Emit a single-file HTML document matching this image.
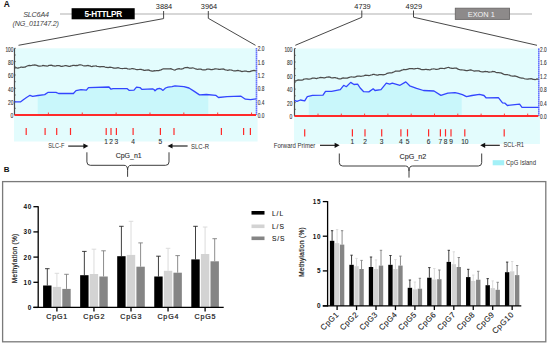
<!DOCTYPE html>
<html><head><meta charset="utf-8"><title>SLC6A4 methylation</title>
<style>
html,body{margin:0;padding:0;background:#fff;}
body{width:550px;height:346px;overflow:hidden;}
svg{display:block;font-family:"Liberation Sans", sans-serif;}
</style></head>
<body>
<svg width="550" height="346" viewBox="0 0 550 346">
<rect width="550" height="346" fill="#fff"/>
<text x="3.8" y="6.95" font-size="8.4" font-weight="bold" fill="#111">A</text>
<text x="36" y="17.3" font-size="7.2" font-style="italic" fill="#444" letter-spacing="-0.2" text-anchor="middle">SLC6A4</text>
<text x="35.7" y="26.0" font-size="7.2" font-style="italic" fill="#444" letter-spacing="-0.22" text-anchor="middle">(NG_011747.2)</text>
<line x1="60" y1="14" x2="532" y2="14" stroke="#b0b0b0" stroke-width="1.2"/>
<rect x="71.6" y="8.2" width="63.1" height="11.1" fill="#000"/>
<text x="103.2" y="16.5" font-size="8.2" font-weight="bold" fill="#fff" text-anchor="middle" letter-spacing="-0.3">5-HTTLPR</text>
<rect x="455.3" y="8.2" width="54.2" height="11.2" fill="#8d8a8a" stroke="#6a6868" stroke-width="0.9"/>
<text x="481.3" y="16.5" font-size="7.4" fill="#f4f4f4" text-anchor="middle">EXON 1</text>
<text x="164" y="9" font-size="7.4" fill="#222" text-anchor="middle">3884</text>
<text x="209" y="9" font-size="7.4" fill="#222" text-anchor="middle">3964</text>
<text x="362.5" y="9" font-size="7.4" fill="#222" text-anchor="middle">4739</text>
<text x="413.8" y="9" font-size="7.4" fill="#222" text-anchor="middle">4929</text>
<polyline points="163.6,11 163.6,18.6 18.5,45.3" fill="none" stroke="#333" stroke-width="0.9"/>
<polyline points="208.3,11 208.3,18.3 255.5,45.3" fill="none" stroke="#333" stroke-width="0.9"/>
<polyline points="361.8,10.5 361.8,17.3 295.3,45.3" fill="none" stroke="#333" stroke-width="0.9"/>
<polyline points="413.5,10.5 413.5,17.2 537,45.3" fill="none" stroke="#333" stroke-width="0.9"/>
<rect x="14" y="48.3" width="242" height="66.7" fill="#e3fcfd"/>
<rect x="14" y="115" width="243.6" height="26.5" fill="#e3fcfd"/>
<polygon points="37.7,115.0 37.7,95.5 38.0,95.5 44.7,94.6 48.2,92.3 56.0,92.3 58.6,93.5 73.4,93.5 76.0,90.6 81.0,89.7 86.4,90.2 88.5,87.6 109.0,87.0 111.0,89.2 113.0,88.6 127.0,88.6 129.0,90.3 134.0,90.2 136.5,87.2 140.0,87.6 142.0,89.4 152.6,88.8 154.0,89.5 155.0,90.8 157.0,89.0 159.5,88.3 161.5,89.2 163.0,90.4 165.5,88.0 168.0,87.2 172.0,86.6 175.0,85.8 183.9,86.7 189.0,88.0 194.3,91.4 199.5,94.9 206.4,94.5 208.3,94.7 208.3,115.0" fill="#c9f7fb"/>
<line x1="14.5" y1="48.3" x2="14.5" y2="115" stroke="#4a4a4a" stroke-width="1.2"/>
<line x1="14.5" y1="48.3" x2="15.8" y2="48.3" stroke="#444" stroke-width="0.7"/>
<line x1="14.5" y1="55.0" x2="15.8" y2="55.0" stroke="#444" stroke-width="0.7"/>
<line x1="14.5" y1="61.6" x2="15.8" y2="61.6" stroke="#444" stroke-width="0.7"/>
<line x1="14.5" y1="68.3" x2="15.8" y2="68.3" stroke="#444" stroke-width="0.7"/>
<line x1="14.5" y1="75.0" x2="15.8" y2="75.0" stroke="#444" stroke-width="0.7"/>
<line x1="14.5" y1="81.7" x2="15.8" y2="81.7" stroke="#444" stroke-width="0.7"/>
<line x1="14.5" y1="88.3" x2="15.8" y2="88.3" stroke="#444" stroke-width="0.7"/>
<line x1="14.5" y1="95.0" x2="15.8" y2="95.0" stroke="#444" stroke-width="0.7"/>
<line x1="14.5" y1="101.7" x2="15.8" y2="101.7" stroke="#444" stroke-width="0.7"/>
<line x1="14.5" y1="108.3" x2="15.8" y2="108.3" stroke="#444" stroke-width="0.7"/>
<line x1="14.5" y1="115.0" x2="15.8" y2="115.0" stroke="#444" stroke-width="0.7"/>
<line x1="256.5" y1="48.3" x2="256.5" y2="115" stroke="#3346ff" stroke-width="1.6" stroke-dasharray="1.3,0.7"/>
<text x="5.4" y="51.5" font-size="7.6" fill="#333" stroke="#333" stroke-width="0.12" textLength="8.0" lengthAdjust="spacingAndGlyphs">100</text>
<text x="257.7" y="51.3" font-size="7.6" fill="#333" stroke="#333" stroke-width="0.12" textLength="6.6" lengthAdjust="spacingAndGlyphs">2.0</text>
<text x="8.0" y="64.8" font-size="7.6" fill="#333" stroke="#333" stroke-width="0.12" textLength="5.4" lengthAdjust="spacingAndGlyphs">80</text>
<text x="257.7" y="64.6" font-size="7.6" fill="#333" stroke="#333" stroke-width="0.12" textLength="6.6" lengthAdjust="spacingAndGlyphs">1.6</text>
<text x="8.0" y="78.2" font-size="7.6" fill="#333" stroke="#333" stroke-width="0.12" textLength="5.4" lengthAdjust="spacingAndGlyphs">60</text>
<text x="257.7" y="78.0" font-size="7.6" fill="#333" stroke="#333" stroke-width="0.12" textLength="6.6" lengthAdjust="spacingAndGlyphs">1.2</text>
<text x="8.0" y="91.5" font-size="7.6" fill="#333" stroke="#333" stroke-width="0.12" textLength="5.4" lengthAdjust="spacingAndGlyphs">40</text>
<text x="257.7" y="91.3" font-size="7.6" fill="#333" stroke="#333" stroke-width="0.12" textLength="6.6" lengthAdjust="spacingAndGlyphs">0.8</text>
<text x="8.0" y="104.9" font-size="7.6" fill="#333" stroke="#333" stroke-width="0.12" textLength="5.4" lengthAdjust="spacingAndGlyphs">20</text>
<text x="257.7" y="104.7" font-size="7.6" fill="#333" stroke="#333" stroke-width="0.12" textLength="6.6" lengthAdjust="spacingAndGlyphs">0.4</text>
<text x="10.6" y="118.2" font-size="7.6" fill="#333" stroke="#333" stroke-width="0.12" textLength="2.8" lengthAdjust="spacingAndGlyphs">0</text>
<text x="257.7" y="118.0" font-size="7.6" fill="#333" stroke="#333" stroke-width="0.12" textLength="6.6" lengthAdjust="spacingAndGlyphs">0.0</text>
<polyline points="14.5,66.7 15.6,67.3 16.7,68.0 17.8,68.2 18.8,67.8 19.9,67.5 20.9,67.1 21.9,67.2 23.0,67.3 24.0,67.2 25.1,67.1 26.1,66.5 27.2,66.0 28.3,65.7 29.4,65.5 30.5,65.7 31.5,65.5 32.6,65.2 33.7,65.2 34.7,65.0 35.8,65.2 36.8,65.4 37.9,65.8 38.9,66.2 40.0,66.2 41.0,66.0 42.0,65.8 43.0,65.5 44.0,65.6 45.0,65.8 46.0,65.9 47.0,66.0 48.0,65.8 49.0,65.4 50.0,65.3 51.0,65.2 52.0,65.4 53.0,65.9 54.0,65.9 55.0,66.0 56.0,65.9 57.0,65.6 58.0,65.6 59.0,65.7 60.0,65.9 61.0,66.3 62.0,66.3 63.0,66.1 64.0,66.0 65.0,65.7 66.0,65.7 67.0,65.9 68.0,66.1 69.0,66.3 70.0,66.3 71.0,65.9 72.1,65.6 73.1,65.3 74.2,65.3 75.2,65.6 76.3,65.5 77.3,65.6 78.4,65.2 79.4,64.8 80.5,64.9 81.6,65.0 82.8,65.5 83.9,65.9 85.0,65.9 86.0,65.9 87.0,65.6 88.0,65.5 89.0,65.8 90.0,65.9 91.0,66.3 92.0,66.5 93.0,66.2 94.0,66.2 95.0,66.0 96.0,65.9 97.0,66.3 98.0,66.5 99.0,66.7 100.0,66.9 101.0,66.6 102.0,66.5 103.0,66.5 104.0,66.6 105.0,67.0 106.0,67.3 107.0,67.4 108.0,67.5 109.0,67.3 110.0,67.1 111.0,67.3 112.0,67.5 113.0,67.8 114.0,68.2 115.0,68.1 116.0,68.1 117.1,67.9 118.1,67.7 119.2,68.0 120.2,68.3 121.3,68.5 122.3,68.7 123.4,68.5 124.4,68.3 125.5,68.3 126.5,68.3 127.6,68.8 128.6,69.0 129.7,69.1 130.7,69.0 131.8,68.7 132.8,68.7 133.8,68.8 134.8,69.0 135.9,69.5 136.9,69.6 137.9,69.6 138.9,69.5 139.9,69.3 140.9,69.4 142.0,69.7 143.0,69.9 144.0,70.3 145.0,70.3 146.0,70.1 147.0,70.1 148.1,70.0 149.1,70.1 150.1,70.6 151.1,70.8 152.1,71.0 153.2,71.0 154.2,70.7 155.2,70.8 156.4,70.5 157.6,70.5 158.8,70.6 160.0,70.2 161.1,69.9 162.2,69.2 163.2,68.9 164.3,68.9 165.4,68.8 166.5,68.9 167.6,68.9 168.6,68.8 169.7,68.8 170.8,68.7 171.8,69.1 172.9,69.5 173.9,69.8 175.0,70.1 176.0,69.5 177.0,69.2 178.0,68.9 179.1,68.7 180.1,68.9 181.1,69.0 182.1,68.8 183.1,68.6 184.1,68.0 185.2,67.7 186.2,67.6 187.2,67.5 188.2,67.7 189.3,68.0 190.3,68.0 191.4,68.0 192.4,67.9 193.5,68.0 194.6,68.5 195.6,68.8 196.7,69.2 197.8,69.3 198.8,69.1 199.9,69.2 200.9,69.2 202.0,69.6 203.0,69.9 204.0,69.8 205.0,69.9 206.0,69.6 207.0,69.2 208.0,69.2 209.0,69.2 210.0,69.3 211.0,69.7 212.0,69.6 213.0,69.4 214.0,69.2 215.0,68.8 216.0,68.9 217.0,69.0 218.0,69.1 219.0,69.4 220.0,69.3 221.1,69.1 222.1,69.1 223.2,69.0 224.3,69.4 225.3,69.8 226.4,70.0 227.5,70.3 228.6,70.1 229.6,69.9 230.7,70.0 231.7,70.1 232.7,70.5 233.8,70.8 234.8,70.8 235.8,70.8 236.8,70.6 237.8,70.4 238.8,70.7 239.9,70.8 240.9,71.2 241.9,71.5 242.9,71.3 243.9,71.2 244.9,71.0 246.0,71.0 247.0,71.4 248.0,71.6 249.0,71.6 250.0,71.6 251.0,71.1 252.0,70.8 253.0,70.6 254.0,70.4 255.0,70.6 256.5,70.8" fill="none" stroke="#4c4c4c" stroke-width="1.25"/>
<polyline points="14.5,101.9 20.4,101.9 23.0,100.0 26.5,97.5 30.0,95.3 32.6,96.3 38.0,95.5 44.7,94.6 48.2,92.3 56.0,92.3 58.6,93.5 73.4,93.5 76.0,90.6 81.0,89.7 86.4,90.2 88.5,87.6 109.0,87.0 111.0,89.2 113.0,88.6 127.0,88.6 129.0,90.3 134.0,90.2 136.5,87.2 140.0,87.6 142.0,89.4 152.6,88.8 154.0,89.5 155.0,90.8 157.0,89.0 159.5,88.3 161.5,89.2 163.0,90.4 165.5,88.0 168.0,87.2 172.0,86.6 175.0,85.8 183.9,86.7 189.0,88.0 194.3,91.4 199.5,94.9 206.4,94.5 216.0,95.4 218.5,97.5 227.0,96.6 241.0,96.2 245.4,99.2 250.6,99.7 256.0,98.8" fill="none" stroke="#3346ff" stroke-width="1.3" stroke-linejoin="round"/>
<line x1="14.5" y1="115" x2="256" y2="115" stroke="#ff2a2a" stroke-width="2"/>
<line x1="48.4" y1="112.5" x2="48.4" y2="115" stroke="#ff2a2a" stroke-width="0.9"/>
<line x1="82.25999999999999" y1="112.5" x2="82.25999999999999" y2="115" stroke="#ff2a2a" stroke-width="0.9"/>
<line x1="116.12" y1="112.5" x2="116.12" y2="115" stroke="#ff2a2a" stroke-width="0.9"/>
<line x1="149.98" y1="112.5" x2="149.98" y2="115" stroke="#ff2a2a" stroke-width="0.9"/>
<line x1="183.84" y1="112.5" x2="183.84" y2="115" stroke="#ff2a2a" stroke-width="0.9"/>
<line x1="217.70000000000002" y1="112.5" x2="217.70000000000002" y2="115" stroke="#ff2a2a" stroke-width="0.9"/>
<line x1="251.56" y1="112.5" x2="251.56" y2="115" stroke="#ff2a2a" stroke-width="0.9"/>
<line x1="26.2" y1="128" x2="26.2" y2="135" stroke="#ff2a2a" stroke-width="1.2"/>
<line x1="45.1" y1="128" x2="45.1" y2="135" stroke="#ff2a2a" stroke-width="1.2"/>
<line x1="56.7" y1="128" x2="56.7" y2="135" stroke="#ff2a2a" stroke-width="1.2"/>
<line x1="70.5" y1="128" x2="70.5" y2="135" stroke="#ff2a2a" stroke-width="1.2"/>
<line x1="106.2" y1="128" x2="106.2" y2="135" stroke="#ff2a2a" stroke-width="1.2"/>
<line x1="111" y1="128" x2="111" y2="135" stroke="#ff2a2a" stroke-width="1.2"/>
<line x1="116.4" y1="128" x2="116.4" y2="135" stroke="#ff2a2a" stroke-width="1.2"/>
<line x1="133.1" y1="128" x2="133.1" y2="135" stroke="#ff2a2a" stroke-width="1.2"/>
<line x1="160.4" y1="128" x2="160.4" y2="135" stroke="#ff2a2a" stroke-width="1.2"/>
<line x1="174" y1="128" x2="174" y2="135" stroke="#ff2a2a" stroke-width="1.2"/>
<line x1="221.4" y1="128" x2="221.4" y2="135" stroke="#ff2a2a" stroke-width="1.2"/>
<line x1="243.6" y1="128" x2="243.6" y2="135" stroke="#ff2a2a" stroke-width="1.2"/>
<line x1="250.4" y1="128" x2="250.4" y2="135" stroke="#ff2a2a" stroke-width="1.2"/>
<rect x="294" y="48.5" width="244.29999999999995" height="67.6" fill="#e3fcfd"/>
<rect x="294" y="116.1" width="245.89999999999995" height="27.900000000000006" fill="#e3fcfd"/>
<polygon points="308.8,116.1 308.8,96.3 312.5,95.4 323.0,95.2 325.5,91.4 331.6,91.4 340.3,89.7 343.7,85.3 346.3,86.7 350.7,82.4 354.0,84.5 357.6,84.1 360.2,88.0 363.7,91.7 368.9,91.9 373.2,88.8 375.0,90.5 381.0,89.7 386.3,83.2 389.7,84.1 392.3,83.1 400.0,85.3 405.8,81.9 409.7,85.8 416.6,88.3 423.5,90.5 434.0,91.0 440.9,95.4 447.8,93.1 455.0,92.7 458.3,93.4 461.7,94.4 461.7,116.1" fill="#c9f7fb"/>
<line x1="294.5" y1="48.5" x2="294.5" y2="116.1" stroke="#4a4a4a" stroke-width="1.2"/>
<line x1="294.5" y1="48.5" x2="295.8" y2="48.5" stroke="#444" stroke-width="0.7"/>
<line x1="294.5" y1="55.3" x2="295.8" y2="55.3" stroke="#444" stroke-width="0.7"/>
<line x1="294.5" y1="62.0" x2="295.8" y2="62.0" stroke="#444" stroke-width="0.7"/>
<line x1="294.5" y1="68.8" x2="295.8" y2="68.8" stroke="#444" stroke-width="0.7"/>
<line x1="294.5" y1="75.5" x2="295.8" y2="75.5" stroke="#444" stroke-width="0.7"/>
<line x1="294.5" y1="82.3" x2="295.8" y2="82.3" stroke="#444" stroke-width="0.7"/>
<line x1="294.5" y1="89.1" x2="295.8" y2="89.1" stroke="#444" stroke-width="0.7"/>
<line x1="294.5" y1="95.8" x2="295.8" y2="95.8" stroke="#444" stroke-width="0.7"/>
<line x1="294.5" y1="102.6" x2="295.8" y2="102.6" stroke="#444" stroke-width="0.7"/>
<line x1="294.5" y1="109.3" x2="295.8" y2="109.3" stroke="#444" stroke-width="0.7"/>
<line x1="294.5" y1="116.1" x2="295.8" y2="116.1" stroke="#444" stroke-width="0.7"/>
<line x1="538.8" y1="48.5" x2="538.8" y2="116.1" stroke="#3346ff" stroke-width="1.6" stroke-dasharray="1.3,0.7"/>
<text x="284.4" y="51.7" font-size="7.6" fill="#333" stroke="#333" stroke-width="0.12" textLength="8.0" lengthAdjust="spacingAndGlyphs">100</text>
<text x="540.0" y="51.5" font-size="7.6" fill="#333" stroke="#333" stroke-width="0.12" textLength="6.6" lengthAdjust="spacingAndGlyphs">2.0</text>
<text x="287.0" y="65.2" font-size="7.6" fill="#333" stroke="#333" stroke-width="0.12" textLength="5.4" lengthAdjust="spacingAndGlyphs">80</text>
<text x="540.0" y="65.0" font-size="7.6" fill="#333" stroke="#333" stroke-width="0.12" textLength="6.6" lengthAdjust="spacingAndGlyphs">1.6</text>
<text x="287.0" y="78.7" font-size="7.6" fill="#333" stroke="#333" stroke-width="0.12" textLength="5.4" lengthAdjust="spacingAndGlyphs">60</text>
<text x="540.0" y="78.5" font-size="7.6" fill="#333" stroke="#333" stroke-width="0.12" textLength="6.6" lengthAdjust="spacingAndGlyphs">1.2</text>
<text x="287.0" y="92.3" font-size="7.6" fill="#333" stroke="#333" stroke-width="0.12" textLength="5.4" lengthAdjust="spacingAndGlyphs">40</text>
<text x="540.0" y="92.1" font-size="7.6" fill="#333" stroke="#333" stroke-width="0.12" textLength="6.6" lengthAdjust="spacingAndGlyphs">0.8</text>
<text x="287.0" y="105.8" font-size="7.6" fill="#333" stroke="#333" stroke-width="0.12" textLength="5.4" lengthAdjust="spacingAndGlyphs">20</text>
<text x="540.0" y="105.6" font-size="7.6" fill="#333" stroke="#333" stroke-width="0.12" textLength="6.6" lengthAdjust="spacingAndGlyphs">0.4</text>
<text x="289.6" y="119.3" font-size="7.6" fill="#333" stroke="#333" stroke-width="0.12" textLength="2.8" lengthAdjust="spacingAndGlyphs">0</text>
<text x="540.0" y="119.1" font-size="7.6" fill="#333" stroke="#333" stroke-width="0.12" textLength="6.6" lengthAdjust="spacingAndGlyphs">0.0</text>
<polyline points="294.5,81.4 295.5,80.9 296.6,80.6 297.6,80.2 298.7,79.9 299.7,80.1 300.8,80.0 301.8,80.0 302.9,79.8 303.9,79.2 305.0,79.0 306.0,78.8 307.1,78.8 308.1,79.1 309.2,79.1 310.3,78.9 311.3,78.6 312.4,78.2 313.5,78.2 314.5,78.2 315.6,78.3 316.6,78.5 317.7,78.2 318.7,78.0 319.7,77.7 320.8,77.4 321.8,77.6 322.8,77.7 323.8,77.8 324.8,77.9 325.8,77.5 326.8,77.2 327.9,77.1 328.9,76.9 329.9,77.2 330.9,77.6 332.0,77.8 333.0,77.9 334.1,77.7 335.1,77.6 336.1,77.9 337.2,78.1 338.2,78.6 339.3,78.9 340.3,78.9 341.3,78.6 342.3,78.1 343.3,77.9 344.3,78.0 345.3,78.0 346.4,78.1 347.4,78.1 348.4,77.6 349.4,77.3 350.4,77.0 351.4,76.8 352.4,77.0 353.4,77.1 354.5,77.1 355.5,76.9 356.6,76.4 357.6,76.1 358.6,76.0 359.7,76.0 360.7,76.3 361.8,76.2 362.8,76.0 363.8,75.8 364.8,75.3 365.9,75.2 366.9,75.3 367.9,75.3 368.9,75.6 369.9,75.4 370.9,75.0 371.9,74.8 373.0,74.4 374.0,74.4 375.0,74.7 376.0,74.8 377.0,75.0 378.0,75.0 379.0,74.6 380.0,74.6 381.0,74.6 382.0,74.7 383.0,74.9 384.1,74.6 385.1,74.4 386.1,74.0 387.1,73.3 388.2,73.1 389.2,72.9 390.2,72.8 391.3,72.9 392.3,72.6 393.3,72.2 394.4,71.8 395.4,71.2 396.5,71.2 397.5,71.2 398.6,71.1 399.6,71.1 400.7,70.6 401.7,70.1 402.8,69.8 403.8,69.5 404.9,69.6 405.9,69.6 407.0,69.4 408.0,69.2 409.1,68.7 410.1,68.5 411.2,68.5 412.3,68.6 413.4,68.9 414.5,68.9 415.5,68.7 416.6,68.5 417.7,68.3 418.8,68.6 419.9,68.9 421.0,69.3 422.0,69.6 423.1,69.5 424.2,69.5 425.3,69.4 426.4,69.3 427.4,69.6 428.5,69.7 429.5,69.8 430.6,69.6 431.6,69.2 432.7,69.0 433.7,68.9 434.8,69.0 435.8,69.4 436.9,69.3 437.9,69.2 439.0,68.9 440.1,68.4 441.2,68.4 442.2,68.4 443.3,68.5 444.4,68.6 445.5,68.2 446.5,67.9 447.6,67.5 448.7,67.4 449.8,67.8 450.9,68.1 452.0,68.4 453.2,68.3 454.3,68.1 455.4,68.1 456.5,68.2 457.6,68.9 458.7,69.4 459.8,69.7 460.8,69.9 461.9,69.8 463.0,70.0 464.1,70.1 465.1,70.3 466.2,70.6 467.2,70.6 468.3,70.4 469.3,70.2 470.4,69.9 471.5,70.2 472.5,70.5 473.6,70.8 474.7,71.2 475.7,70.9 476.8,70.9 477.9,70.8 479.0,70.9 480.0,71.4 481.1,71.7 482.2,71.9 483.2,71.9 484.3,71.6 485.3,71.5 486.4,71.6 487.4,71.7 488.5,72.1 489.5,72.1 490.5,72.0 491.6,71.8 492.6,71.4 493.7,71.6 494.7,71.7 495.7,72.2 496.8,72.7 497.8,72.7 498.9,72.7 499.9,72.8 500.9,72.9 502.0,73.4 503.0,73.9 504.1,74.3 505.1,74.6 506.1,74.5 507.2,74.5 508.2,74.8 509.3,75.0 510.3,75.6 511.5,76.0 512.6,76.1 513.8,76.2 514.9,76.0 516.1,76.3 517.2,76.6 518.3,77.2 519.5,77.7 520.6,77.8 521.7,78.0 522.9,78.0 524.0,78.5 525.0,78.8 526.0,79.0 527.0,79.2 528.0,79.1 529.0,78.8 530.0,78.8 531.0,78.7 532.0,78.9 533.0,79.3 534.0,79.4 535.0,79.5 536.0,79.4 537.0,79.0 538.5,79.3" fill="none" stroke="#4c4c4c" stroke-width="1.25"/>
<polyline points="294.5,100.4 297.0,101.4 300.4,100.0 304.7,100.9 307.3,96.6 312.5,95.4 323.0,95.2 325.5,91.4 331.6,91.4 340.3,89.7 343.7,85.3 346.3,86.7 350.7,82.4 354.0,84.5 357.6,84.1 360.2,88.0 363.7,91.7 368.9,91.9 373.2,88.8 375.0,90.5 381.0,89.7 386.3,83.2 389.7,84.1 392.3,83.1 400.0,85.3 405.8,81.9 409.7,85.8 416.6,88.3 423.5,90.5 434.0,91.0 440.9,95.4 447.8,93.1 455.0,92.7 458.3,93.4 462.4,94.6 466.5,96.6 472.0,95.5 479.5,94.4 484.0,95.5 486.0,97.8 498.4,97.6 502.5,102.8 505.0,103.2 507.4,105.5 519.6,104.1 522.0,107.3 538.5,107.3" fill="none" stroke="#3346ff" stroke-width="1.3" stroke-linejoin="round"/>
<line x1="294.5" y1="116.1" x2="538.3" y2="116.1" stroke="#ff2a2a" stroke-width="2"/>
<line x1="318.0" y1="113.6" x2="318.0" y2="116.1" stroke="#ff2a2a" stroke-width="0.9"/>
<line x1="341.3" y1="113.6" x2="341.3" y2="116.1" stroke="#ff2a2a" stroke-width="0.9"/>
<line x1="364.6" y1="113.6" x2="364.6" y2="116.1" stroke="#ff2a2a" stroke-width="0.9"/>
<line x1="387.9" y1="113.6" x2="387.9" y2="116.1" stroke="#ff2a2a" stroke-width="0.9"/>
<line x1="411.2" y1="113.6" x2="411.2" y2="116.1" stroke="#ff2a2a" stroke-width="0.9"/>
<line x1="434.5" y1="113.6" x2="434.5" y2="116.1" stroke="#ff2a2a" stroke-width="0.9"/>
<line x1="457.8" y1="113.6" x2="457.8" y2="116.1" stroke="#ff2a2a" stroke-width="0.9"/>
<line x1="481.1" y1="113.6" x2="481.1" y2="116.1" stroke="#ff2a2a" stroke-width="0.9"/>
<line x1="504.4" y1="113.6" x2="504.4" y2="116.1" stroke="#ff2a2a" stroke-width="0.9"/>
<line x1="527.7" y1="113.6" x2="527.7" y2="116.1" stroke="#ff2a2a" stroke-width="0.9"/>
<line x1="304.7" y1="129.2" x2="304.7" y2="136.5" stroke="#ff2a2a" stroke-width="1.2"/>
<line x1="352.4" y1="129.2" x2="352.4" y2="136.5" stroke="#ff2a2a" stroke-width="1.2"/>
<line x1="365" y1="129.2" x2="365" y2="136.5" stroke="#ff2a2a" stroke-width="1.2"/>
<line x1="381.7" y1="129.2" x2="381.7" y2="136.5" stroke="#ff2a2a" stroke-width="1.2"/>
<line x1="400.9" y1="129.2" x2="400.9" y2="136.5" stroke="#ff2a2a" stroke-width="1.2"/>
<line x1="407.5" y1="129.2" x2="407.5" y2="136.5" stroke="#ff2a2a" stroke-width="1.2"/>
<line x1="428.6" y1="129.2" x2="428.6" y2="136.5" stroke="#ff2a2a" stroke-width="1.2"/>
<line x1="440.4" y1="129.2" x2="440.4" y2="136.5" stroke="#ff2a2a" stroke-width="1.2"/>
<line x1="445.5" y1="129.2" x2="445.5" y2="136.5" stroke="#ff2a2a" stroke-width="1.2"/>
<line x1="451" y1="129.2" x2="451" y2="136.5" stroke="#ff2a2a" stroke-width="1.2"/>
<line x1="464.8" y1="129.2" x2="464.8" y2="136.5" stroke="#ff2a2a" stroke-width="1.2"/>
<line x1="504.2" y1="129.2" x2="504.2" y2="136.5" stroke="#ff2a2a" stroke-width="1.2"/>
<text x="106.2" y="143.6" font-size="6.6" fill="#333" stroke="#333" stroke-width="0.1" text-anchor="middle">1</text>
<text x="111" y="143.6" font-size="6.6" fill="#333" stroke="#333" stroke-width="0.1" text-anchor="middle">2</text>
<text x="116.4" y="143.6" font-size="6.6" fill="#333" stroke="#333" stroke-width="0.1" text-anchor="middle">3</text>
<text x="133.1" y="143.6" font-size="6.6" fill="#333" stroke="#333" stroke-width="0.1" text-anchor="middle">4</text>
<text x="160.4" y="143.6" font-size="6.6" fill="#333" stroke="#333" stroke-width="0.1" text-anchor="middle">5</text>
<text x="352.4" y="143.7" font-size="6.6" fill="#333" stroke="#333" stroke-width="0.1" text-anchor="middle">1</text>
<text x="365" y="143.7" font-size="6.6" fill="#333" stroke="#333" stroke-width="0.1" text-anchor="middle">2</text>
<text x="381.7" y="143.7" font-size="6.6" fill="#333" stroke="#333" stroke-width="0.1" text-anchor="middle">3</text>
<text x="400.9" y="143.7" font-size="6.6" fill="#333" stroke="#333" stroke-width="0.1" text-anchor="middle">4</text>
<text x="407.5" y="143.7" font-size="6.6" fill="#333" stroke="#333" stroke-width="0.1" text-anchor="middle">5</text>
<text x="428.6" y="143.7" font-size="6.6" fill="#333" stroke="#333" stroke-width="0.1" text-anchor="middle">6</text>
<text x="440.4" y="143.7" font-size="6.6" fill="#333" stroke="#333" stroke-width="0.1" text-anchor="middle">7</text>
<text x="445.5" y="143.7" font-size="6.6" fill="#333" stroke="#333" stroke-width="0.1" text-anchor="middle">8</text>
<text x="451" y="143.7" font-size="6.6" fill="#333" stroke="#333" stroke-width="0.1" text-anchor="middle">9</text>
<text x="464.8" y="143.7" font-size="6.6" fill="#333" stroke="#333" stroke-width="0.1" text-anchor="middle">10</text>
<text x="48.2" y="148.2" font-size="6.6" fill="#333" textLength="16.2" lengthAdjust="spacingAndGlyphs">SLC-F</text>
<line x1="68.2" y1="146.1" x2="84.4" y2="146.1" stroke="#111" stroke-width="1.1"/>
<polygon points="88.4,146.1 83.4,143.5 83.4,148.7" fill="#111"/>
<text x="191" y="148.6" font-size="6.6" fill="#333" textLength="18" lengthAdjust="spacingAndGlyphs">SLC-R</text>
<line x1="187.6" y1="146" x2="171.5" y2="146" stroke="#111" stroke-width="1.1"/>
<polygon points="167.5,146 172.5,143.4 172.5,148.6" fill="#111"/>
<text x="273.8" y="147.6" font-size="6.6" fill="#333" textLength="41.5" lengthAdjust="spacingAndGlyphs">Forward Primer</text>
<line x1="320" y1="145.3" x2="335.6" y2="145.3" stroke="#111" stroke-width="1.1"/>
<polygon points="339.6,145.3 334.6,142.70000000000002 334.6,147.9" fill="#111"/>
<text x="503.5" y="147.3" font-size="6.6" fill="#333" textLength="20.5" lengthAdjust="spacingAndGlyphs">SCL-R1</text>
<line x1="499.8" y1="145.3" x2="484.2" y2="145.3" stroke="#111" stroke-width="1.1"/>
<polygon points="480.2,145.3 485.2,142.70000000000002 485.2,147.9" fill="#111"/>
<path d="M86.9,152.3 L86.9,161.9 Q86.9,165.3 90.30000000000001,165.3 L124.0,165.3 C126.39999999999999,165.3 127.6,166.8 127.6,170.3 L127.6,176.8 M127.6,170.3 C127.6,166.8 128.79999999999998,165.3 131.2,165.3 L165.6,165.3 Q169,165.3 169,161.9 L169,152.3" fill="none" stroke="#333" stroke-width="0.95"/>
<path d="M339.3,153.5 L339.3,162.6 Q339.3,166 342.7,166 L405.4,166 C407.8,166 409,167.5 409,171 L409,177.6 M409,171 C409,167.5 410.2,166 412.6,166 L478.3,166 Q481.7,166 481.7,162.6 L481.7,153.5" fill="none" stroke="#333" stroke-width="0.95"/>
<text x="128.7" y="158.2" font-size="7" fill="#2a2a2a" stroke="#2a2a2a" stroke-width="0.1" text-anchor="middle">CpG_n1</text>
<text x="412.9" y="158.9" font-size="7.2" fill="#2a2a2a" stroke="#2a2a2a" stroke-width="0.1" text-anchor="middle">CpG_n2</text>
<rect x="492.7" y="160.2" width="11.5" height="5.1" fill="#a3f0f7"/>
<text x="506" y="165" font-size="6.6" fill="#333" textLength="30" lengthAdjust="spacingAndGlyphs">CpG Island</text>
<text x="3.7" y="172.0" font-size="8.0" font-weight="bold" fill="#111">B</text>
<rect x="2.6" y="181.6" width="543.2" height="160.2" fill="none" stroke="#7a7a7a" stroke-width="1.3"/>
<line x1="47.30" y1="268.7" x2="47.30" y2="285.5" stroke="#2a2a2a" stroke-width="0.9"/>
<line x1="45.03" y1="268.7" x2="49.57" y2="268.7" stroke="#2a2a2a" stroke-width="0.9"/>
<rect x="43.10" y="285.5" width="8.4" height="21.9" fill="#000"/>
<line x1="56.90" y1="273.3" x2="56.90" y2="286.9" stroke="#d8d8d8" stroke-width="0.9"/>
<line x1="54.63" y1="273.3" x2="59.17" y2="273.3" stroke="#d8d8d8" stroke-width="0.9"/>
<rect x="52.70" y="286.9" width="8.4" height="20.5" fill="#d3d3d3"/>
<line x1="66.50" y1="274.3" x2="66.50" y2="288.9" stroke="#808080" stroke-width="0.9"/>
<line x1="64.23" y1="274.3" x2="68.77" y2="274.3" stroke="#808080" stroke-width="0.9"/>
<rect x="62.30" y="288.9" width="8.4" height="18.5" fill="#858585"/>
<line x1="84.35" y1="251.4" x2="84.35" y2="275.2" stroke="#2a2a2a" stroke-width="0.9"/>
<line x1="82.08" y1="251.4" x2="86.62" y2="251.4" stroke="#2a2a2a" stroke-width="0.9"/>
<rect x="80.15" y="275.2" width="8.4" height="32.2" fill="#000"/>
<line x1="93.95" y1="249.2" x2="93.95" y2="274.0" stroke="#d8d8d8" stroke-width="0.9"/>
<line x1="91.68" y1="249.2" x2="96.22" y2="249.2" stroke="#d8d8d8" stroke-width="0.9"/>
<rect x="89.75" y="274.0" width="8.4" height="33.4" fill="#d3d3d3"/>
<line x1="103.55" y1="250.8" x2="103.55" y2="276.5" stroke="#808080" stroke-width="0.9"/>
<line x1="101.28" y1="250.8" x2="105.82" y2="250.8" stroke="#808080" stroke-width="0.9"/>
<rect x="99.35" y="276.5" width="8.4" height="30.9" fill="#858585"/>
<line x1="121.40" y1="226.3" x2="121.40" y2="256.2" stroke="#2a2a2a" stroke-width="0.9"/>
<line x1="119.13" y1="226.3" x2="123.67" y2="226.3" stroke="#2a2a2a" stroke-width="0.9"/>
<rect x="117.20" y="256.2" width="8.4" height="51.2" fill="#000"/>
<line x1="131.00" y1="221.3" x2="131.00" y2="254.9" stroke="#d8d8d8" stroke-width="0.9"/>
<line x1="128.73" y1="221.3" x2="133.27" y2="221.3" stroke="#d8d8d8" stroke-width="0.9"/>
<rect x="126.80" y="254.9" width="8.4" height="52.5" fill="#d3d3d3"/>
<line x1="140.60" y1="242.9" x2="140.60" y2="266.7" stroke="#808080" stroke-width="0.9"/>
<line x1="138.33" y1="242.9" x2="142.87" y2="242.9" stroke="#808080" stroke-width="0.9"/>
<rect x="136.40" y="266.7" width="8.4" height="40.7" fill="#858585"/>
<line x1="158.45" y1="256.2" x2="158.45" y2="276.5" stroke="#2a2a2a" stroke-width="0.9"/>
<line x1="156.18" y1="256.2" x2="160.72" y2="256.2" stroke="#2a2a2a" stroke-width="0.9"/>
<rect x="154.25" y="276.5" width="8.4" height="30.9" fill="#000"/>
<line x1="168.05" y1="248.3" x2="168.05" y2="270.8" stroke="#d8d8d8" stroke-width="0.9"/>
<line x1="165.78" y1="248.3" x2="170.32" y2="248.3" stroke="#d8d8d8" stroke-width="0.9"/>
<rect x="163.85" y="270.8" width="8.4" height="36.6" fill="#d3d3d3"/>
<line x1="177.65" y1="255.6" x2="177.65" y2="272.7" stroke="#808080" stroke-width="0.9"/>
<line x1="175.38" y1="255.6" x2="179.92" y2="255.6" stroke="#808080" stroke-width="0.9"/>
<rect x="173.45" y="272.7" width="8.4" height="34.7" fill="#858585"/>
<line x1="195.50" y1="226.3" x2="195.50" y2="259.4" stroke="#2a2a2a" stroke-width="0.9"/>
<line x1="193.23" y1="226.3" x2="197.77" y2="226.3" stroke="#2a2a2a" stroke-width="0.9"/>
<rect x="191.30" y="259.4" width="8.4" height="48.0" fill="#000"/>
<line x1="205.10" y1="227.0" x2="205.10" y2="254.0" stroke="#d8d8d8" stroke-width="0.9"/>
<line x1="202.83" y1="227.0" x2="207.37" y2="227.0" stroke="#d8d8d8" stroke-width="0.9"/>
<rect x="200.90" y="254.0" width="8.4" height="53.4" fill="#d3d3d3"/>
<line x1="214.70" y1="238.7" x2="214.70" y2="261.3" stroke="#808080" stroke-width="0.9"/>
<line x1="212.43" y1="238.7" x2="216.97" y2="238.7" stroke="#808080" stroke-width="0.9"/>
<rect x="210.50" y="261.3" width="8.4" height="46.1" fill="#858585"/>
<line x1="38.2" y1="206.2" x2="38.2" y2="308.0" stroke="#000" stroke-width="1.3"/>
<line x1="33.400000000000006" y1="307.4" x2="223.7" y2="307.4" stroke="#000" stroke-width="1.3"/>
<line x1="33.400000000000006" y1="206.7" x2="38.2" y2="206.7" stroke="#000" stroke-width="1.3"/>
<text x="31.900000000000002" y="209.1" font-size="6.4" font-weight="bold" letter-spacing="0.7" fill="#111" text-anchor="end">40</text>
<line x1="33.400000000000006" y1="231.9" x2="38.2" y2="231.9" stroke="#000" stroke-width="1.3"/>
<text x="31.900000000000002" y="234.3" font-size="6.4" font-weight="bold" letter-spacing="0.7" fill="#111" text-anchor="end">30</text>
<line x1="33.400000000000006" y1="257.1" x2="38.2" y2="257.1" stroke="#000" stroke-width="1.3"/>
<text x="31.900000000000002" y="259.5" font-size="6.4" font-weight="bold" letter-spacing="0.7" fill="#111" text-anchor="end">20</text>
<line x1="33.400000000000006" y1="282.3" x2="38.2" y2="282.3" stroke="#000" stroke-width="1.3"/>
<text x="31.900000000000002" y="284.7" font-size="6.4" font-weight="bold" letter-spacing="0.7" fill="#111" text-anchor="end">10</text>
<line x1="33.400000000000006" y1="307.4" x2="38.2" y2="307.4" stroke="#000" stroke-width="1.3"/>
<text x="31.900000000000002" y="309.8" font-size="6.4" font-weight="bold" letter-spacing="0.7" fill="#111" text-anchor="end">0</text>
<line x1="56.9" y1="307.4" x2="56.9" y2="311.59999999999997" stroke="#000" stroke-width="1.3"/>
<line x1="93.94999999999999" y1="307.4" x2="93.94999999999999" y2="311.59999999999997" stroke="#000" stroke-width="1.3"/>
<line x1="131.0" y1="307.4" x2="131.0" y2="311.59999999999997" stroke="#000" stroke-width="1.3"/>
<line x1="168.04999999999998" y1="307.4" x2="168.04999999999998" y2="311.59999999999997" stroke="#000" stroke-width="1.3"/>
<line x1="205.1" y1="307.4" x2="205.1" y2="311.59999999999997" stroke="#000" stroke-width="1.3"/>
<text x="57.199999999999996" y="318.6" font-size="7.1" letter-spacing="0.85" fill="#1a1a1a" stroke="#1a1a1a" stroke-width="0.22" text-anchor="middle">CpG1</text>
<text x="94.24999999999999" y="318.6" font-size="7.1" letter-spacing="0.85" fill="#1a1a1a" stroke="#1a1a1a" stroke-width="0.22" text-anchor="middle">CpG2</text>
<text x="131.3" y="318.6" font-size="7.1" letter-spacing="0.85" fill="#1a1a1a" stroke="#1a1a1a" stroke-width="0.22" text-anchor="middle">CpG3</text>
<text x="168.35" y="318.6" font-size="7.1" letter-spacing="0.85" fill="#1a1a1a" stroke="#1a1a1a" stroke-width="0.22" text-anchor="middle">CpG4</text>
<text x="205.4" y="318.6" font-size="7.1" letter-spacing="0.85" fill="#1a1a1a" stroke="#1a1a1a" stroke-width="0.22" text-anchor="middle">CpG5</text>
<text transform="translate(17.3,258.3) rotate(-90)" font-size="6.5" letter-spacing="0.3" fill="#1a1a1a" stroke="#1a1a1a" stroke-width="0.2" text-anchor="middle">Methylation (%)</text>
<rect x="251.5" y="211.0" width="13" height="3.6" fill="#000"/>
<text x="272" y="215.60000000000002" font-size="6.7" letter-spacing="0.9" fill="#222" stroke="#222" stroke-width="0.12">L/L</text>
<rect x="251.5" y="224.5" width="13" height="3.6" fill="#d3d3d3"/>
<text x="272" y="229.10000000000002" font-size="6.7" letter-spacing="0.9" fill="#222" stroke="#222" stroke-width="0.12">L/S</text>
<rect x="251.5" y="236.5" width="13" height="3.6" fill="#858585"/>
<text x="272" y="241.10000000000002" font-size="6.7" letter-spacing="0.9" fill="#222" stroke="#222" stroke-width="0.12">S/S</text>
<line x1="332.10" y1="230.7" x2="332.10" y2="240.8" stroke="#2a2a2a" stroke-width="0.9"/>
<line x1="330.91" y1="230.7" x2="333.29" y2="230.7" stroke="#2a2a2a" stroke-width="0.9"/>
<rect x="329.90" y="240.8" width="4.4" height="65.1" fill="#000"/>
<line x1="337.10" y1="229.6" x2="337.10" y2="243.1" stroke="#d8d8d8" stroke-width="0.9"/>
<line x1="335.91" y1="229.6" x2="338.29" y2="229.6" stroke="#d8d8d8" stroke-width="0.9"/>
<rect x="334.90" y="243.1" width="4.4" height="62.8" fill="#d3d3d3"/>
<line x1="342.10" y1="230.7" x2="342.10" y2="244.6" stroke="#808080" stroke-width="0.9"/>
<line x1="340.91" y1="230.7" x2="343.29" y2="230.7" stroke="#808080" stroke-width="0.9"/>
<rect x="339.90" y="244.6" width="4.4" height="61.3" fill="#858585"/>
<line x1="351.55" y1="255.2" x2="351.55" y2="264.8" stroke="#2a2a2a" stroke-width="0.9"/>
<line x1="350.36" y1="255.2" x2="352.74" y2="255.2" stroke="#2a2a2a" stroke-width="0.9"/>
<rect x="349.35" y="264.8" width="4.4" height="41.1" fill="#000"/>
<line x1="356.55" y1="258.4" x2="356.55" y2="266.2" stroke="#d8d8d8" stroke-width="0.9"/>
<line x1="355.36" y1="258.4" x2="357.74" y2="258.4" stroke="#d8d8d8" stroke-width="0.9"/>
<rect x="354.35" y="266.2" width="4.4" height="39.7" fill="#d3d3d3"/>
<line x1="361.55" y1="260.4" x2="361.55" y2="269.0" stroke="#808080" stroke-width="0.9"/>
<line x1="360.36" y1="260.4" x2="362.74" y2="260.4" stroke="#808080" stroke-width="0.9"/>
<rect x="359.35" y="269.0" width="4.4" height="36.9" fill="#858585"/>
<line x1="371.00" y1="257.0" x2="371.00" y2="267.0" stroke="#2a2a2a" stroke-width="0.9"/>
<line x1="369.81" y1="257.0" x2="372.19" y2="257.0" stroke="#2a2a2a" stroke-width="0.9"/>
<rect x="368.80" y="267.0" width="4.4" height="38.9" fill="#000"/>
<line x1="376.00" y1="259.9" x2="376.00" y2="269.0" stroke="#d8d8d8" stroke-width="0.9"/>
<line x1="374.81" y1="259.9" x2="377.19" y2="259.9" stroke="#d8d8d8" stroke-width="0.9"/>
<rect x="373.80" y="269.0" width="4.4" height="36.9" fill="#d3d3d3"/>
<line x1="381.00" y1="250.3" x2="381.00" y2="265.6" stroke="#808080" stroke-width="0.9"/>
<line x1="379.81" y1="250.3" x2="382.19" y2="250.3" stroke="#808080" stroke-width="0.9"/>
<rect x="378.80" y="265.6" width="4.4" height="40.3" fill="#858585"/>
<line x1="390.45" y1="255.5" x2="390.45" y2="264.8" stroke="#2a2a2a" stroke-width="0.9"/>
<line x1="389.26" y1="255.5" x2="391.64" y2="255.5" stroke="#2a2a2a" stroke-width="0.9"/>
<rect x="388.25" y="264.8" width="4.4" height="41.1" fill="#000"/>
<line x1="395.45" y1="259.6" x2="395.45" y2="269.0" stroke="#d8d8d8" stroke-width="0.9"/>
<line x1="394.26" y1="259.6" x2="396.64" y2="259.6" stroke="#d8d8d8" stroke-width="0.9"/>
<rect x="393.25" y="269.0" width="4.4" height="36.9" fill="#d3d3d3"/>
<line x1="400.45" y1="256.1" x2="400.45" y2="265.6" stroke="#808080" stroke-width="0.9"/>
<line x1="399.26" y1="256.1" x2="401.64" y2="256.1" stroke="#808080" stroke-width="0.9"/>
<rect x="398.25" y="265.6" width="4.4" height="40.3" fill="#858585"/>
<line x1="409.90" y1="280.0" x2="409.90" y2="287.8" stroke="#2a2a2a" stroke-width="0.9"/>
<line x1="408.71" y1="280.0" x2="411.09" y2="280.0" stroke="#2a2a2a" stroke-width="0.9"/>
<rect x="407.70" y="287.8" width="4.4" height="18.1" fill="#000"/>
<line x1="414.90" y1="282.0" x2="414.90" y2="289.3" stroke="#d8d8d8" stroke-width="0.9"/>
<line x1="413.71" y1="282.0" x2="416.09" y2="282.0" stroke="#d8d8d8" stroke-width="0.9"/>
<rect x="412.70" y="289.3" width="4.4" height="16.6" fill="#d3d3d3"/>
<line x1="419.90" y1="278.3" x2="419.90" y2="288.7" stroke="#808080" stroke-width="0.9"/>
<line x1="418.71" y1="278.3" x2="421.09" y2="278.3" stroke="#808080" stroke-width="0.9"/>
<rect x="417.70" y="288.7" width="4.4" height="17.2" fill="#858585"/>
<line x1="429.35" y1="267.6" x2="429.35" y2="277.7" stroke="#2a2a2a" stroke-width="0.9"/>
<line x1="428.16" y1="267.6" x2="430.54" y2="267.6" stroke="#2a2a2a" stroke-width="0.9"/>
<rect x="427.15" y="277.7" width="4.4" height="28.2" fill="#000"/>
<line x1="434.35" y1="268.5" x2="434.35" y2="279.5" stroke="#d8d8d8" stroke-width="0.9"/>
<line x1="433.16" y1="268.5" x2="435.54" y2="268.5" stroke="#d8d8d8" stroke-width="0.9"/>
<rect x="432.15" y="279.5" width="4.4" height="26.4" fill="#d3d3d3"/>
<line x1="439.35" y1="270.0" x2="439.35" y2="279.2" stroke="#808080" stroke-width="0.9"/>
<line x1="438.16" y1="270.0" x2="440.54" y2="270.0" stroke="#808080" stroke-width="0.9"/>
<rect x="437.15" y="279.2" width="4.4" height="26.7" fill="#858585"/>
<line x1="448.80" y1="250.3" x2="448.80" y2="261.9" stroke="#2a2a2a" stroke-width="0.9"/>
<line x1="447.61" y1="250.3" x2="449.99" y2="250.3" stroke="#2a2a2a" stroke-width="0.9"/>
<rect x="446.60" y="261.9" width="4.4" height="44.0" fill="#000"/>
<line x1="453.80" y1="251.8" x2="453.80" y2="264.2" stroke="#d8d8d8" stroke-width="0.9"/>
<line x1="452.61" y1="251.8" x2="454.99" y2="251.8" stroke="#d8d8d8" stroke-width="0.9"/>
<rect x="451.60" y="264.2" width="4.4" height="41.7" fill="#d3d3d3"/>
<line x1="458.80" y1="257.5" x2="458.80" y2="267.0" stroke="#808080" stroke-width="0.9"/>
<line x1="457.61" y1="257.5" x2="459.99" y2="257.5" stroke="#808080" stroke-width="0.9"/>
<rect x="456.60" y="267.0" width="4.4" height="38.9" fill="#858585"/>
<line x1="468.25" y1="269.3" x2="468.25" y2="277.1" stroke="#2a2a2a" stroke-width="0.9"/>
<line x1="467.06" y1="269.3" x2="469.44" y2="269.3" stroke="#2a2a2a" stroke-width="0.9"/>
<rect x="466.05" y="277.1" width="4.4" height="28.8" fill="#000"/>
<line x1="473.25" y1="275.1" x2="473.25" y2="280.9" stroke="#d8d8d8" stroke-width="0.9"/>
<line x1="472.06" y1="275.1" x2="474.44" y2="275.1" stroke="#d8d8d8" stroke-width="0.9"/>
<rect x="471.05" y="280.9" width="4.4" height="25.0" fill="#d3d3d3"/>
<line x1="478.25" y1="271.3" x2="478.25" y2="279.7" stroke="#808080" stroke-width="0.9"/>
<line x1="477.06" y1="271.3" x2="479.44" y2="271.3" stroke="#808080" stroke-width="0.9"/>
<rect x="476.05" y="279.7" width="4.4" height="26.2" fill="#858585"/>
<line x1="487.70" y1="278.6" x2="487.70" y2="285.2" stroke="#2a2a2a" stroke-width="0.9"/>
<line x1="486.51" y1="278.6" x2="488.89" y2="278.6" stroke="#2a2a2a" stroke-width="0.9"/>
<rect x="485.50" y="285.2" width="4.4" height="20.7" fill="#000"/>
<line x1="492.70" y1="280.9" x2="492.70" y2="288.1" stroke="#d8d8d8" stroke-width="0.9"/>
<line x1="491.51" y1="280.9" x2="493.89" y2="280.9" stroke="#d8d8d8" stroke-width="0.9"/>
<rect x="490.50" y="288.1" width="4.4" height="17.8" fill="#d3d3d3"/>
<line x1="497.70" y1="282.3" x2="497.70" y2="289.8" stroke="#808080" stroke-width="0.9"/>
<line x1="496.51" y1="282.3" x2="498.89" y2="282.3" stroke="#808080" stroke-width="0.9"/>
<rect x="495.50" y="289.8" width="4.4" height="16.1" fill="#858585"/>
<line x1="507.15" y1="262.1" x2="507.15" y2="272.2" stroke="#2a2a2a" stroke-width="0.9"/>
<line x1="505.96" y1="262.1" x2="508.34" y2="262.1" stroke="#2a2a2a" stroke-width="0.9"/>
<rect x="504.95" y="272.2" width="4.4" height="33.7" fill="#000"/>
<line x1="512.15" y1="261.5" x2="512.15" y2="271.3" stroke="#d8d8d8" stroke-width="0.9"/>
<line x1="510.96" y1="261.5" x2="513.34" y2="261.5" stroke="#d8d8d8" stroke-width="0.9"/>
<rect x="509.95" y="271.3" width="4.4" height="34.6" fill="#d3d3d3"/>
<line x1="517.15" y1="265.5" x2="517.15" y2="275.1" stroke="#808080" stroke-width="0.9"/>
<line x1="515.96" y1="265.5" x2="518.34" y2="265.5" stroke="#808080" stroke-width="0.9"/>
<rect x="514.95" y="275.1" width="4.4" height="30.8" fill="#858585"/>
<line x1="327.6" y1="201.1" x2="327.6" y2="306.5" stroke="#000" stroke-width="1.3"/>
<line x1="322.8" y1="305.9" x2="521.3" y2="305.9" stroke="#000" stroke-width="1.3"/>
<line x1="322.8" y1="201.6" x2="327.6" y2="201.6" stroke="#000" stroke-width="1.3"/>
<text x="321.3" y="204.0" font-size="6.4" font-weight="bold" letter-spacing="0.7" fill="#111" text-anchor="end">15</text>
<line x1="322.8" y1="236.2" x2="327.6" y2="236.2" stroke="#000" stroke-width="1.3"/>
<text x="321.3" y="238.6" font-size="6.4" font-weight="bold" letter-spacing="0.7" fill="#111" text-anchor="end">10</text>
<line x1="322.8" y1="270.9" x2="327.6" y2="270.9" stroke="#000" stroke-width="1.3"/>
<text x="321.3" y="273.3" font-size="6.4" font-weight="bold" letter-spacing="0.7" fill="#111" text-anchor="end">5</text>
<line x1="322.8" y1="305.9" x2="327.6" y2="305.9" stroke="#000" stroke-width="1.3"/>
<text x="321.3" y="308.3" font-size="6.4" font-weight="bold" letter-spacing="0.7" fill="#111" text-anchor="end">0</text>
<line x1="337.1" y1="305.9" x2="337.1" y2="310.09999999999997" stroke="#000" stroke-width="1.3"/>
<line x1="356.55" y1="305.9" x2="356.55" y2="310.09999999999997" stroke="#000" stroke-width="1.3"/>
<line x1="376.0" y1="305.9" x2="376.0" y2="310.09999999999997" stroke="#000" stroke-width="1.3"/>
<line x1="395.45000000000005" y1="305.9" x2="395.45000000000005" y2="310.09999999999997" stroke="#000" stroke-width="1.3"/>
<line x1="414.90000000000003" y1="305.9" x2="414.90000000000003" y2="310.09999999999997" stroke="#000" stroke-width="1.3"/>
<line x1="434.35" y1="305.9" x2="434.35" y2="310.09999999999997" stroke="#000" stroke-width="1.3"/>
<line x1="453.8" y1="305.9" x2="453.8" y2="310.09999999999997" stroke="#000" stroke-width="1.3"/>
<line x1="473.25" y1="305.9" x2="473.25" y2="310.09999999999997" stroke="#000" stroke-width="1.3"/>
<line x1="492.70000000000005" y1="305.9" x2="492.70000000000005" y2="310.09999999999997" stroke="#000" stroke-width="1.3"/>
<line x1="512.15" y1="305.9" x2="512.15" y2="310.09999999999997" stroke="#000" stroke-width="1.3"/>
<text transform="translate(339.40000000000003,315.0) rotate(-45)" font-size="7.9" letter-spacing="0.45" fill="#1a1a1a" stroke="#1a1a1a" stroke-width="0.1" text-anchor="end">CpG1</text>
<text transform="translate(358.85,315.0) rotate(-45)" font-size="7.9" letter-spacing="0.45" fill="#1a1a1a" stroke="#1a1a1a" stroke-width="0.1" text-anchor="end">CpG2</text>
<text transform="translate(378.3,315.0) rotate(-45)" font-size="7.9" letter-spacing="0.45" fill="#1a1a1a" stroke="#1a1a1a" stroke-width="0.1" text-anchor="end">CpG3</text>
<text transform="translate(397.75000000000006,315.0) rotate(-45)" font-size="7.9" letter-spacing="0.45" fill="#1a1a1a" stroke="#1a1a1a" stroke-width="0.1" text-anchor="end">CpG4</text>
<text transform="translate(417.20000000000005,315.0) rotate(-45)" font-size="7.9" letter-spacing="0.45" fill="#1a1a1a" stroke="#1a1a1a" stroke-width="0.1" text-anchor="end">CpG5</text>
<text transform="translate(436.65000000000003,315.0) rotate(-45)" font-size="7.9" letter-spacing="0.45" fill="#1a1a1a" stroke="#1a1a1a" stroke-width="0.1" text-anchor="end">CpG6</text>
<text transform="translate(456.1,315.0) rotate(-45)" font-size="7.9" letter-spacing="0.45" fill="#1a1a1a" stroke="#1a1a1a" stroke-width="0.1" text-anchor="end">CpG7</text>
<text transform="translate(475.55,315.0) rotate(-45)" font-size="7.9" letter-spacing="0.45" fill="#1a1a1a" stroke="#1a1a1a" stroke-width="0.1" text-anchor="end">CpG8</text>
<text transform="translate(495.00000000000006,315.0) rotate(-45)" font-size="7.9" letter-spacing="0.45" fill="#1a1a1a" stroke="#1a1a1a" stroke-width="0.1" text-anchor="end">CpG9</text>
<text transform="translate(514.4499999999999,315.0) rotate(-45)" font-size="7.9" letter-spacing="0.45" fill="#1a1a1a" stroke="#1a1a1a" stroke-width="0.1" text-anchor="end">CpG10</text>
<text transform="translate(304.4,251.8) rotate(-90)" font-size="6.5" letter-spacing="0.3" fill="#1a1a1a" stroke="#1a1a1a" stroke-width="0.2" text-anchor="middle">Methylation (%)</text>
</svg>
</body></html>
